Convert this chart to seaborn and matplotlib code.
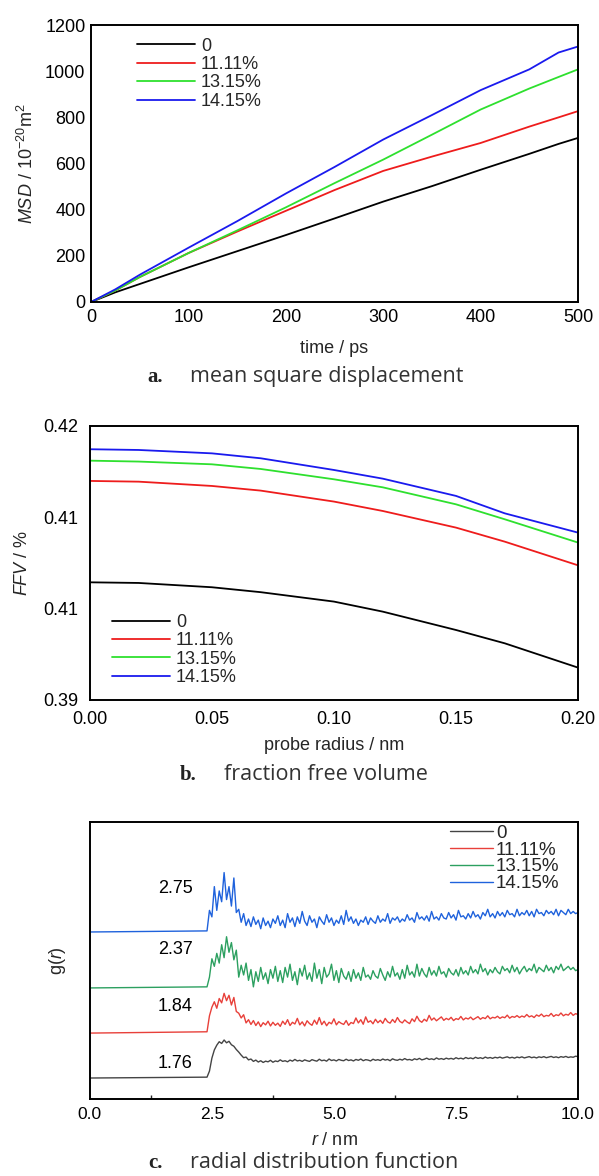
import numpy as np
import pandas as pd
import matplotlib
matplotlib.use("Agg")
import matplotlib.pyplot as plt
from matplotlib.ticker import FixedLocator
import seaborn as sns

# ---------------- data ----------------
series = ["0", "11.11%", "13.15%", "14.15%"]

# (a) mean square displacement, 10^-20 m^2
time_ps = [0, 25, 50, 100, 150, 200, 250, 300, 350, 400, 450, 480, 500]
msd_0 = [0, 42, 78, 150, 220, 290, 362, 435, 502, 573, 642, 685, 711]
msd_1111 = [0, 50, 108, 212, 305, 395, 485, 568, 630, 689, 760, 800, 827]
msd_1315 = [0, 50, 108, 212, 310, 410, 515, 617, 725, 834, 925, 975, 1008]
msd_1415 = [0, 55, 118, 235, 350, 470, 585, 704, 810, 918, 1008, 1081, 1107]

# (b) fraction free volume vs probe radius
probe_nm = [0.00, 0.02, 0.05, 0.07, 0.10, 0.12, 0.15, 0.17, 0.20]
ffv_0 = [0.40288, 0.40281, 0.40234, 0.40180, 0.40077, 0.39967, 0.39766, 0.39620, 0.39354]
ffv_1111 = [0.41398, 0.41390, 0.41343, 0.41292, 0.41172, 0.41069, 0.40887, 0.40733, 0.40474]
ffv_1315 = [0.41620, 0.41610, 0.41580, 0.41529, 0.41416, 0.41328, 0.41142, 0.40978, 0.40723]
ffv_1415 = [0.41745, 0.41737, 0.41700, 0.41646, 0.41518, 0.41423, 0.41234, 0.41043, 0.40832]
ffv_ticks = [0.39, 0.40, 0.41, 0.42]
ffv_ticklabels = ["0.39", "0.41", "0.41", "0.42"]

# (c) radial distribution function, r = 2.40 ... 10.00 nm in 0.05 steps
r_nm = np.round(np.linspace(2.40, 10.00, 153), 2)
g_0 = [
    0.04, 0.32, 0.92, 1.30, 1.52, 1.68, 1.60, 1.76, 1.63, 1.70,
    1.54, 1.47, 1.32, 1.20, 1.06, 0.94, 0.97, 0.84, 0.88, 0.77,
    0.83, 0.74, 0.80, 0.72, 0.78, 0.75, 0.82, 0.73, 0.79, 0.76,
    0.84, 0.77, 0.80, 0.75, 0.83, 0.78, 0.86, 0.79, 0.82, 0.77,
    0.84, 0.80, 0.77, 0.85, 0.81, 0.78, 0.87, 0.80, 0.83, 0.78,
    0.88, 0.81, 0.84, 0.79, 0.86, 0.82, 0.80, 0.87, 0.81, 0.84,
    0.79, 0.86, 0.82, 0.88, 0.80, 0.85, 0.83, 0.79, 0.87, 0.82,
    0.85, 0.81, 0.88, 0.83, 0.86, 0.80, 0.89, 0.84, 0.82, 0.87,
    0.83, 0.90, 0.84, 0.86, 0.82, 0.89, 0.85, 0.91, 0.84, 0.87,
    0.92, 0.86, 0.89, 0.85, 0.93, 0.87, 0.90, 0.86, 0.92, 0.88,
    0.91, 0.87, 0.94, 0.89, 0.92, 0.88, 0.95, 0.90, 0.93, 0.89,
    0.96, 0.91, 0.94, 0.90, 0.97, 0.92, 0.95, 0.91, 0.96, 0.93,
    0.97, 0.92, 0.95, 0.98, 0.93, 0.96, 0.92, 0.97, 0.94, 0.98,
    0.93, 0.96, 0.99, 0.94, 0.97, 0.93, 0.98, 0.95, 0.99, 0.94,
    0.97, 1.00, 0.95, 0.98, 0.94, 0.99, 0.96, 1.00, 0.95, 0.98,
    0.96, 1.01, 0.99,
]
g_1111 = [
    0.06, 0.80, 1.20, 1.45, 1.15, 1.60, 1.40, 1.84, 1.50, 1.75,
    1.30, 1.65, 1.00, 0.92, 0.70, 0.85, 0.47, 0.62, 0.40, 0.58,
    0.35, 0.52, 0.30, 0.48, 0.38, 0.55, 0.33, 0.50, 0.36, 0.46,
    0.31, 0.55, 0.40, 0.62, 0.35, 0.50, 0.42, 0.68, 0.38, 0.52,
    0.33, 0.57, 0.44, 0.36, 0.60, 0.41, 0.72, 0.39, 0.55, 0.34,
    0.50, 0.43, 0.66, 0.38, 0.53, 0.45, 0.40, 0.58, 0.36, 0.49,
    0.44, 0.70, 0.47, 0.62, 0.41, 0.75, 0.50, 0.57, 0.43, 0.64,
    0.48, 0.59, 0.45, 0.68, 0.52, 0.46, 0.63, 0.49, 0.72, 0.54,
    0.47, 0.61, 0.51, 0.44, 0.66, 0.53, 0.78, 0.58, 0.50, 0.64,
    0.55, 0.82, 0.60, 0.70, 0.57, 0.66, 0.75, 0.59, 0.68, 0.62,
    0.73, 0.58, 0.67, 0.63, 0.77, 0.61, 0.70, 0.65, 0.74, 0.62,
    0.69, 0.76, 0.64, 0.72, 0.67, 0.80, 0.66, 0.73, 0.70, 0.78,
    0.68, 0.75, 0.71, 0.83, 0.69, 0.77, 0.73, 0.81, 0.72, 0.79,
    0.74, 0.86, 0.75, 0.80, 0.72, 0.84, 0.78, 0.88, 0.76, 0.82,
    0.79, 0.91, 0.77, 0.85, 0.81, 0.93, 0.80, 0.87, 0.83, 0.95,
    0.82, 0.90, 0.86,
]
g_1315 = [
    0.05, 0.50, 1.35, 1.00, 1.60, 1.15, 2.00, 1.40, 2.37, 1.65,
    2.10, 1.30, 1.75, 0.50, 1.05, 0.60, 1.15, 0.35, 0.85, 0.05,
    0.75, 0.30, 0.95, 0.40, 0.70, 0.20, 0.85, 0.45, 1.00, 0.30,
    0.80, 0.25, 0.95, 0.50, 1.10, 0.35, 0.75, 0.15, 0.90, 0.55,
    1.05, 0.40, 0.70, 0.30, 1.15, 0.45, 0.85, 0.20, 0.95, 0.50,
    0.65, 1.10, 0.35, 0.80, 0.25, 0.90, 0.55, 0.40, 0.75, 0.30,
    0.85, 0.45, 0.70, 0.35, 0.95, 0.50, 0.60, 0.40, 0.80, 0.55,
    0.45, 0.90, 0.60, 0.35, 0.75, 0.50, 1.00, 0.55, 0.70, 0.40,
    0.85, 0.45, 1.05, 0.60, 0.75, 0.50, 1.10, 0.55, 0.90, 0.65,
    0.50, 0.95, 0.60, 0.80, 0.55, 1.00, 0.65, 0.75, 0.50, 0.90,
    0.70, 0.60, 0.85, 0.55, 0.95, 0.65, 0.80, 0.60, 1.00, 0.70,
    0.85, 0.65, 1.10, 0.75, 0.90, 0.60, 0.85, 0.70, 0.95, 0.75,
    0.65, 1.00, 0.80, 0.90, 0.70, 1.05, 0.75, 0.95, 0.65, 0.85,
    1.00, 0.75, 0.90, 0.80, 1.10, 0.70, 0.95, 0.85, 0.75, 1.05,
    0.80, 0.95, 0.70, 1.00, 0.85, 1.10, 0.80, 0.90, 1.00, 0.85,
    0.95, 0.80, 0.85,
]
g_1415 = [
    0.05, 1.00, 0.70, 2.10, 1.00, 1.90, 1.40, 2.75, 1.50, 2.10,
    1.20, 2.50, 0.90, 1.05, 0.45, 0.85, 0.30, 0.60, 0.25, 0.70,
    0.35, 0.55, 0.15, 0.65, 0.30, 0.50, 0.20, 0.60, 0.40, 0.75,
    0.30, 0.55, 0.20, 0.85, 0.45, 0.65, 0.25, 0.70, 0.40, 0.95,
    0.50, 0.30, 0.75, 0.45, 0.60, 0.20, 0.70, 0.50, 0.35, 0.80,
    0.45, 0.65, 0.30, 0.55, 0.40, 0.75, 0.35, 1.00, 0.50, 0.70,
    0.40, 0.60, 0.30, 0.55, 0.45, 0.70, 0.35, 0.65, 0.50, 0.40,
    0.75, 0.45, 0.60, 0.50, 0.85, 0.40, 0.65, 0.55, 0.70, 0.45,
    0.60, 0.50, 0.80, 0.55, 0.65, 0.45, 0.90, 0.60, 0.70, 0.55,
    0.75, 0.50, 0.95, 0.60, 0.70, 0.55, 0.85, 0.65, 0.60, 0.90,
    0.65, 0.80, 0.55, 1.00, 0.70, 0.75, 0.60, 0.85, 0.65, 0.95,
    0.70, 0.80, 0.60, 0.90, 0.75, 1.05, 0.70, 0.85, 0.65, 0.95,
    0.75, 0.90, 0.70, 1.00, 0.80, 0.85, 0.70, 1.05, 0.75, 0.90,
    0.80, 1.00, 0.75, 0.95, 0.70, 1.05, 0.85, 0.90, 0.75, 1.00,
    0.85, 0.95, 0.80, 1.05, 0.75, 1.00, 0.90, 0.80, 1.05, 0.85,
    0.95, 0.85, 0.90,
]
peak_labels = ["1.76", "1.84", "2.37", "2.75"]

# ---------------- style ----------------
sns.set_theme(style="white")
plt.rcParams["font.family"] = ["Liberation Sans", "DejaVu Sans"]
plt.rcParams["mathtext.fontset"] = "custom"
plt.rcParams["mathtext.rm"] = "Liberation Sans"
plt.rcParams["mathtext.it"] = "Liberation Sans:italic"
plt.rcParams["xtick.direction"] = "in"
plt.rcParams["ytick.direction"] = "in"
plt.rcParams["axes.edgecolor"] = "black"
plt.rcParams["axes.linewidth"] = 1.4

fig = plt.figure(figsize=(5.99, 11.76), dpi=100)
fig.patch.set_facecolor("white")

bright = ["black", "#ee1c1c", "#2ee02e", "#1a1aee"]
soft = ["#444444", "#e8403a", "#2ca060", "#1f62dc"]


def frame(ax, tick_size, xpad=5, ypad=4):
    for s in ax.spines.values():
        s.set_visible(True)
        s.set_color("black")
        s.set_linewidth(1.4)
    ax.tick_params(axis="both", which="major", labelsize=tick_size, colors="black",
                   length=5, width=1.2, top=False, right=False)
    ax.tick_params(axis="x", which="major", pad=xpad)
    ax.tick_params(axis="y", which="major", pad=ypad)


# ---- (a) MSD ----
ax_a = fig.add_axes([0.152, 0.7432, 0.813, 0.2355])
for name, vals, col in zip(series, [msd_0, msd_1111, msd_1315, msd_1415], bright):
    sns.lineplot(x=time_ps, y=vals, ax=ax_a, color=col, linewidth=1.3, label=name)
ax_a.set_xlim(0, 500)
ax_a.set_ylim(0, 1200)
ax_a.set_xticks([0, 100, 200, 300, 400, 500])
ax_a.set_yticks([0, 200, 400, 600, 800, 1000, 1200])
frame(ax_a, 13, xpad=5, ypad=4)
ax_a.set_xlabel("time / ps", fontsize=13)
ax_a.set_ylabel(r"$MSD$ / 10$^{-20}$m$^{2}$", fontsize=13)
ax_a.xaxis.set_label_coords(0.5, -0.137)
ax_a.yaxis.set_label_coords(-0.112, 0.5)
ax_a.legend(loc="upper left", bbox_to_anchor=(0.094, 0.955), frameon=False, fontsize=13,
            handlelength=3.2, handletextpad=0.35, labelspacing=0.08, borderpad=0,
            borderaxespad=0)

# ---- (b) FFV ----
ax_b = fig.add_axes([0.150, 0.4048, 0.815, 0.233])
for name, vals, col in zip(series, [ffv_0, ffv_1111, ffv_1315, ffv_1415], bright):
    sns.lineplot(x=probe_nm, y=vals, ax=ax_b, color=col, linewidth=1.3, label=name)
ax_b.set_xlim(0, 0.20)
ax_b.set_ylim(0.39, 0.42)
ax_b.set_xticks([0.00, 0.05, 0.10, 0.15, 0.20])
ax_b.set_xticklabels(["0.00", "0.05", "0.10", "0.15", "0.20"])
ax_b.set_yticks(ffv_ticks)
ax_b.set_yticklabels(ffv_ticklabels)
frame(ax_b, 13, xpad=8, ypad=8)
ax_b.set_xlabel("probe radius / nm", fontsize=13)
ax_b.set_ylabel(r"$FFV$ / %", fontsize=13)
ax_b.xaxis.set_label_coords(0.5, -0.135)
ax_b.yaxis.set_label_coords(-0.12, 0.5)
ax_b.legend(loc="lower left", bbox_to_anchor=(0.045, 0.05), frameon=False, fontsize=13,
            handlelength=3.2, handletextpad=0.35, labelspacing=0.08, borderpad=0,
            borderaxespad=0)

# ---- (c) g(r), curves stacked with vertical offsets ----
ax_c = fig.add_axes([0.150, 0.0655, 0.815, 0.2355])
offsets = [0.0, 2.08, 4.17, 6.76]
label_lift = [0.69, 1.25, 1.76, 2.0]
for name, vals, col, off, pk, lift in zip(series, [g_0, g_1111, g_1315, g_1415], soft,
                                         offsets, peak_labels, label_lift):
    df = pd.DataFrame({"r": np.concatenate([[0.0], r_nm]),
                       "g": np.concatenate([[0.0], vals]) + off})
    sns.lineplot(data=df, x="r", y="g", ax=ax_c, color=col, linewidth=1.0, label=name)
    ax_c.text(2.11, off + lift, pk, ha="right", va="center", fontsize=13, color="black")
ax_c.set_xlim(0, 10)
ax_c.set_ylim(-0.97, 11.85)
ax_c.set_xticks([0, 2.5, 5.0, 7.5, 10.0])
ax_c.set_xticklabels(["0.0", "2.5", "5.0", "7.5", "10.0"])
ax_c.xaxis.set_minor_locator(FixedLocator([1.25, 3.75, 6.25, 8.75]))
ax_c.set_yticks([])
frame(ax_c, 12.5, xpad=6)
ax_c.tick_params(axis="x", which="minor", direction="in", length=3, width=1.0, bottom=True)
ax_c.set_xlabel(r"$r$ / nm", fontsize=13)
ax_c.set_ylabel(r"g($r$)", fontsize=13)
ax_c.xaxis.set_label_coords(0.5, -0.118)
ax_c.yaxis.set_label_coords(-0.045, 0.5)
ax_c.legend(loc="upper right", bbox_to_anchor=(0.962, 0.99), frameon=False, fontsize=13.5,
            handlelength=2.3, handletextpad=0.15, labelspacing=-0.02, borderpad=0,
            borderaxespad=0)

# ---- captions ----
W, H = 599.0, 1176.0
captions = [
    ("a.", "mean square displacement", 147, 190, 377),
    ("b.", "fraction free volume", 180, 224, 775),
    ("c.", "radial distribution function", 148, 190, 1163),
]
for tag, txt, x_tag, x_txt, y in captions:
    fig.text(x_tag / W, 1 - y / H, tag, ha="left", va="center", fontsize=15,
             fontweight="bold", family=["Liberation Serif", "DejaVu Serif"], color="#222222")
    fig.text(x_txt / W, 1 - y / H, txt, ha="left", va="center", fontsize=15.5,
             family=["Open Sans", "DejaVu Sans"], color="#333333")

fig.savefig("out.png", dpi=100, facecolor="white")
